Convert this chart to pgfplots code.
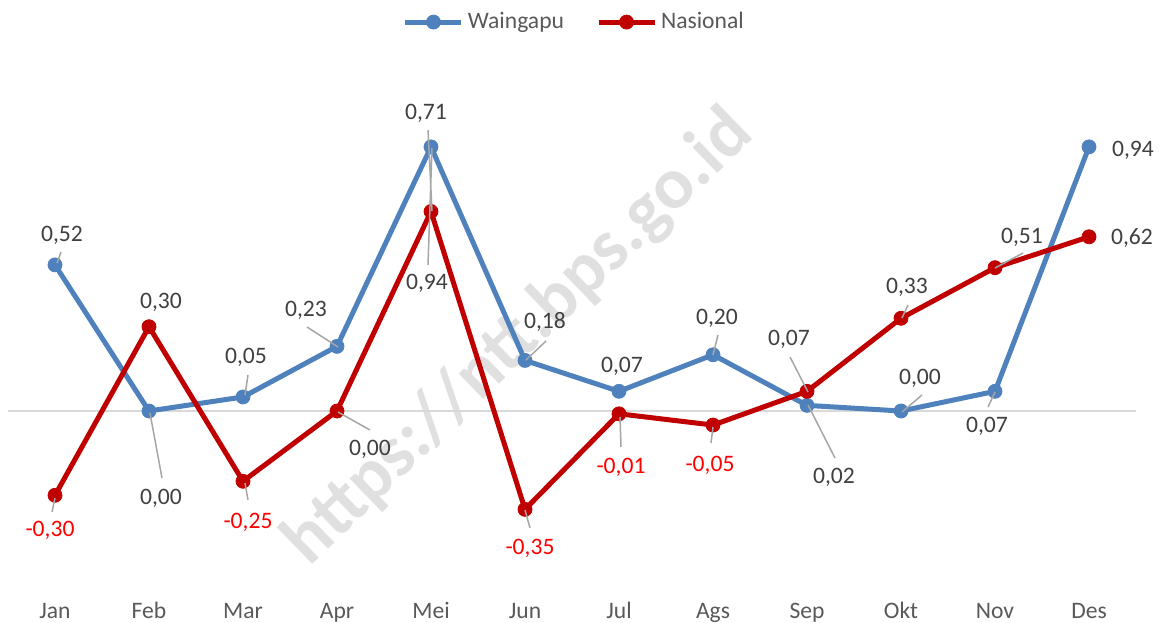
\documentclass[border=0pt]{standalone}
\usepackage{fontspec}
\setmainfont{Carlito}
\usepackage{pgfplots}
\pgfplotsset{compat=1.18}
\definecolor{wblue}{HTML}{4F81BD}
\definecolor{nred}{HTML}{C00000}
\definecolor{lbl}{HTML}{404040}
\definecolor{tickc}{HTML}{595959}
\definecolor{lead}{HTML}{A6A6A6}
\definecolor{zero}{HTML}{D9D9D9}
\definecolor{neg}{HTML}{FF0000}

\begin{document}
\begin{tikzpicture}[font=\fontsize{11.8}{14}\selectfont]
% pixel grid of the reference: (px,py) with origin top left
\tikzset{px/.style={x=0.5pt,y=-0.5pt,shift={(-27.5pt,205.5pt)}}}

\begin{scope}[px]
  \node[rotate=44, text=black!12, font=\bfseries\fontsize{36.5}{40}\selectfont] at (519,338) {https://ntt.bps.go.id};
\end{scope}

\begin{axis}[
    x=47pt, y=140.5pt,
    at={(0,0)}, anchor=origin,
    xmin=-0.5, xmax=11.5, ymin=-0.737, ymax=1.2,
    axis line style={draw=none},
    ytick=\empty,
    xtick={0,...,11},
    xticklabels={Jan,Feb,Mar,Apr,Mei,Jun,Jul,Ags,Sep,Okt,Nov,Des},
    major tick length=0pt,
    xticklabel style={anchor=base, text=tickc},
    extra y ticks={0}, extra y tick labels={},
    extra y tick style={grid=major, major grid style={draw=zero, line width=0.75pt}},
    clip=false,
    legend columns=2,
    legend style={draw=none, fill=none, at={(0.503,1.095)}, anchor=center, text=tickc,
        /tikz/every even column/.append style={column sep=14pt}},
    legend image code/.code={\draw[mark repeat=2, mark phase=2] plot coordinates {(0pt,0pt) (14pt,0pt) (28pt,0pt)};},
    every axis plot/.append style={line width=2.5pt, line join=round, mark=*, mark size=3.5pt, mark options={solid, line width=0.4pt}},
]
\addplot[wblue] coordinates {
    (0,0.52) (1,0.00) (2,0.05) (3,0.23) (4,0.94) (5,0.18)
    (6,0.07) (7,0.20) (8,0.02) (9,0.00) (10,0.07) (11,0.94)};
\addlegendentry{Waingapu}
\addplot[nred] coordinates {
    (0,-0.30) (1,0.30) (2,-0.25) (3,0.00) (4,0.71) (5,-0.35)
    (6,-0.01) (7,-0.05) (8,0.07) (9,0.33) (10,0.51) (11,0.62)};
\addlegendentry{Nasional}
\end{axis}

% data labels with leader lines
\begin{scope}[px]
  \draw[lead, line width=0.75pt]
    (61,252) -- (57,263)
    (150,413) -- (162,478)
    (245,395) -- (248,375)
    (55,498) -- (52,512)
    (245,483) -- (248,500)
    (307,327) -- (338,347)
    (338,412) -- (370,430)
    (428,130) -- (432,211)
    (428,265) -- (432,148)
    (526,360) -- (546,341)
    (620,417) -- (621,447)
    (713,355) -- (718,335)
    (713,427) -- (711,443)
    (525,510) -- (530,528)
    (790,357) -- (808,392)
    (808,405) -- (835,458)
    (902,318) -- (908,305)
    (902,412) -- (922,395)
    (995,392) -- (988,407)
    (995,268) -- (1023,253);
  \begin{scope}[every node/.style={text=lbl}]
    \node at (62,235) {0,52};
    \node at (161,302) {0,30};
    \node at (161,498) {0,00};
    \node at (246,357) {0,05};
    \node at (306,310) {0,23};
    \node at (370,449) {0,00};
    \node at (426,113) {0,71};
    \node at (427,283) {0,94};
    \node at (545,322) {0,18};
    \node at (622,366) {0,07};
    \node at (717,318) {0,20};
    \node at (789,339) {0,07};
    \node at (834,477) {0,02};
    \node at (907,287) {0,33};
    \node at (920,378) {0,00};
    \node at (987,426) {0,07};
    \node at (1022,237) {0,51};
    \node at (1133,150) {0,94};
    \node at (1132,238) {0,62};
  \end{scope}
  \begin{scope}[every node/.style={text=neg}]
    \node at (50,530) {-0,30};
    \node at (248,522) {-0,25};
    \node at (621,467) {-0,01};
    \node at (710,465) {-0,05};
    \node at (530,548) {-0,35};
  \end{scope}
\end{scope}

\pgfresetboundingbox
\path[use as bounding box] (-27.5pt,-105.5pt) rectangle (555pt,205.5pt);
\end{tikzpicture}
\end{document}
